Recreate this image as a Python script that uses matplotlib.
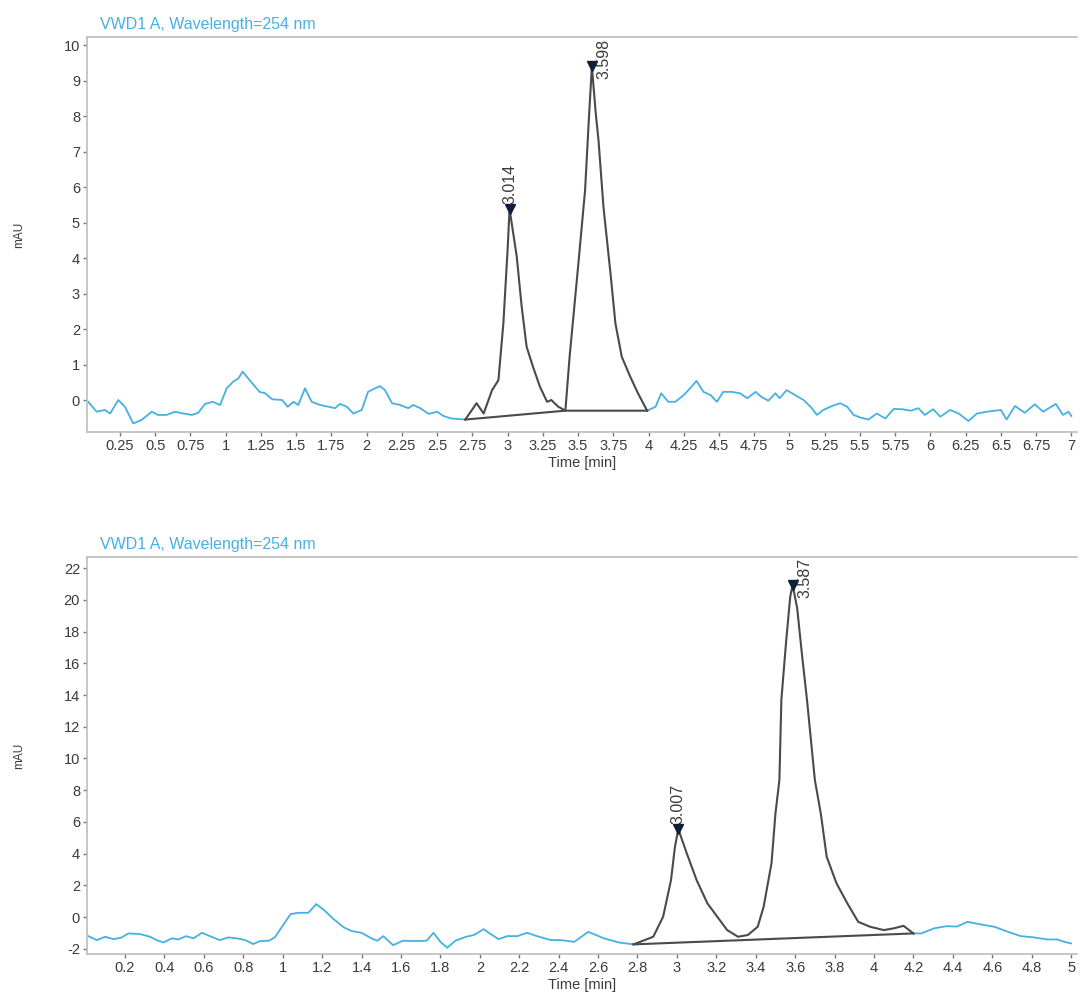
import matplotlib
matplotlib.use("Agg")
import matplotlib.pyplot as plt

plt.rcParams['font.family'] = ['Liberation Sans', 'DejaVu Sans']

# ---- top run (0-7 min) ----
top_base1_t = [0.025, 0.084, 0.143, 0.18, 0.238, 0.285, 0.344, 0.404, 0.475, 0.52, 0.58, 0.64, 0.70,
               0.76, 0.805, 0.853, 0.91, 0.96, 1.007, 1.054, 1.09, 1.12, 1.17, 1.24, 1.28, 1.33, 1.40,
               1.44, 1.48, 1.515, 1.563, 1.61, 1.67, 1.73, 1.775, 1.81, 1.86, 1.905, 1.965, 2.01, 2.06,
               2.095, 2.13, 2.18, 2.237, 2.296, 2.33, 2.38, 2.44, 2.50, 2.545, 2.60, 2.70]
top_base1_v = [-0.05, -0.33, -0.28, -0.38, 0.0, -0.19, -0.66, -0.56, -0.33, -0.42, -0.42, -0.33, -0.38,
               -0.42, -0.36, -0.11, -0.05, -0.14, 0.33, 0.52, 0.61, 0.80, 0.56, 0.23, 0.19, 0.02, 0.0,
               -0.19, -0.05, -0.14, 0.33, -0.05, -0.14, -0.19, -0.23, -0.11, -0.19, -0.38, -0.28, 0.23, 0.33,
               0.39, 0.28, -0.09, -0.14, -0.23, -0.14, -0.23, -0.39, -0.33, -0.45, -0.52, -0.55]

top_peak_t = [2.70, 2.78, 2.83, 2.89, 2.935, 2.97, 3.0, 3.014, 3.065, 3.10, 3.135, 3.18, 3.23, 3.28,
              3.31, 3.36, 3.41, 3.44, 3.50, 3.55, 3.575, 3.598, 3.625, 3.645, 3.68, 3.73, 3.765, 3.81,
              3.87, 3.92, 3.99]
top_peak_v = [-0.55, -0.09, -0.38, 0.28, 0.56, 2.16, 4.23, 5.38, 4.04, 2.63, 1.50, 0.94, 0.37, -0.05,
              0.0, -0.19, -0.30, 1.22, 3.75, 5.92, 7.8, 9.40, 8.1, 7.32, 5.45, 3.57, 2.16, 1.22,
              0.66, 0.23, -0.30]

top_base2_t = [3.99, 4.05, 4.09, 4.14, 4.19, 4.25, 4.295, 4.34, 4.39, 4.44, 4.485, 4.53, 4.59, 4.65,
               4.70, 4.76, 4.80, 4.85, 4.90, 4.93, 4.98, 5.04, 5.10, 5.15, 5.195, 5.24, 5.30, 5.36,
               5.41, 5.455, 5.50, 5.56, 5.62, 5.68, 5.74, 5.80, 5.86, 5.915, 5.96, 6.02, 6.07, 6.14,
               6.20, 6.27, 6.33, 6.40, 6.50, 6.54, 6.60, 6.67, 6.74, 6.80, 6.89, 6.94, 6.98, 7.0]
top_base2_v = [-0.30, -0.19, 0.19, -0.05, -0.05, 0.14, 0.33, 0.54, 0.23, 0.14, -0.05, 0.23, 0.23, 0.19,
               0.05, 0.23, 0.09, -0.02, 0.19, 0.05, 0.28, 0.14, 0.0, -0.19, -0.42, -0.28, -0.17, -0.09,
               -0.19, -0.42, -0.49, -0.55, -0.38, -0.52, -0.25, -0.26, -0.30, -0.23, -0.42, -0.26, -0.47, -0.28,
               -0.38, -0.59, -0.38, -0.33, -0.28, -0.55, -0.17, -0.36, -0.12, -0.33, -0.11, -0.42, -0.33, -0.45]

top_intline_t = [2.70, 3.41, 3.99]
top_intline_v = [-0.55, -0.30, -0.30]
top_apex_t = [3.014, 3.598]
top_apex_v = [5.38, 9.40]
top_apex_lbl = ["3.014", "3.598"]

# ---- bottom run (0-5 min) ----
bot_base1_t = [0.014, 0.056, 0.10, 0.14, 0.18, 0.217, 0.276, 0.327, 0.36, 0.395, 0.437, 0.47, 0.51,
               0.547, 0.59, 0.63, 0.68, 0.725, 0.767, 0.81, 0.85, 0.886, 0.93, 0.96, 0.996, 1.04, 1.08,
               1.13, 1.17, 1.21, 1.26, 1.31, 1.35, 1.40, 1.45, 1.48, 1.51, 1.56, 1.61, 1.67, 1.73,
               1.765, 1.80, 1.835, 1.876, 1.93, 1.97, 2.02, 2.05, 2.095, 2.14, 2.19, 2.24, 2.29, 2.36,
               2.41, 2.48, 2.55, 2.63, 2.705, 2.78]
bot_base1_v = [-1.20, -1.45, -1.24, -1.39, -1.30, -1.03, -1.07, -1.24, -1.45, -1.60, -1.34, -1.41, -1.20,
               -1.34, -0.99, -1.20, -1.45, -1.28, -1.34, -1.45, -1.70, -1.51, -1.49, -1.28, -0.61, 0.19, 0.27,
               0.27, 0.82, 0.44, -0.15, -0.65, -0.88, -0.99, -1.34, -1.49, -1.20, -1.77, -1.49, -1.51, -1.49,
               -0.99, -1.56, -1.93, -1.49, -1.24, -1.13, -0.76, -1.03, -1.39, -1.20, -1.20, -0.99, -1.20, -1.45,
               -1.45, -1.56, -0.93, -1.34, -1.60, -1.72]

bot_peak_t = [2.78, 2.88, 2.93, 2.97, 2.99, 3.007, 3.05, 3.10, 3.155, 3.205, 3.255, 3.31, 3.36, 3.41,
              3.44, 3.48, 3.50, 3.52, 3.53, 3.555, 3.575, 3.587, 3.61, 3.635, 3.66, 3.70, 3.73, 3.76,
              3.81, 3.865, 3.92, 3.98, 4.05, 4.10, 4.15, 4.20]
bot_peak_v = [-1.72, -1.24, 0.02, 2.33, 4.43, 5.55, 4.02, 2.33, 0.86, 0.02, -0.82, -1.24, -1.13, -0.61,
              0.65, 3.39, 6.54, 8.64, 13.7, 17.5, 20.2, 20.93, 19.5, 16.5, 13.7, 8.64, 6.54, 3.80,
              2.12, 0.86, -0.30, -0.61, -0.82, -0.71, -0.55, -1.03]

bot_base2_t = [4.20, 4.24, 4.305, 4.37, 4.42, 4.475, 4.54, 4.61, 4.68, 4.745, 4.81, 4.88, 4.93, 4.965, 5.0]
bot_base2_v = [-1.03, -1.03, -0.71, -0.57, -0.60, -0.30, -0.46, -0.61, -0.93, -1.20, -1.28, -1.41, -1.41,
               -1.56, -1.66]

bot_intline_t = [2.78, 4.20]
bot_intline_v = [-1.72, -1.03]
bot_apex_t = [3.007, 3.587]
bot_apex_v = [5.55, 20.93]
bot_apex_lbl = ["3.007", "3.587"]

top_xticks = [0.25 * i for i in range(1, 29)]
top_yticks = list(range(0, 11))
bot_xticks = [0.2 * i for i in range(1, 26)]
bot_yticks = list(range(-2, 23, 2))

BLUE = '#45b1e3'
PEAK = '#4a4a4a'
SPINE = '#bdbdbd'
TXT = '#3a3a3a'


def fmt(v):
    s = ('%.2f' % v).rstrip('0').rstrip('.')
    return s


def draw(ax, b1t, b1v, pt, pv, b2t, b2v, it, iv, at, av, lbl, offs, xt, yt, xlim, ylim):
    ax.plot(b1t, b1v, color=BLUE, lw=1.3)
    ax.plot(b2t, b2v, color=BLUE, lw=1.3)
    ax.plot(pt, pv, color=PEAK, lw=1.5)
    ax.plot(it, iv, color=PEAK, lw=1.5)
    ax.plot(at, av, linestyle='none', marker='v', color='#0d1f3a', ms=7)
    for x, y, s, o in zip(at, av, lbl, offs):
        ax.annotate(s, (x, y), xytext=o, textcoords='offset points', rotation=90,
                    ha='center', va='bottom', fontsize=11.5, color=TXT, annotation_clip=False)
    ax.set_xlim(*xlim)
    ax.set_ylim(*ylim)
    ax.set_xticks(xt)
    ax.set_xticklabels([fmt(v) for v in xt])
    ax.set_yticks(yt)
    ax.set_yticklabels([str(v) for v in yt])
    ax.spines['right'].set_visible(False)
    for s in ['left', 'bottom', 'top']:
        ax.spines[s].set_color(SPINE)
        ax.spines[s].set_linewidth(1.2)
    ax.tick_params(length=3, width=1, color='#777777', labelsize=10.5, labelcolor=TXT, pad=2)
    ax.set_xlabel('Time [min]', fontsize=10.5, color=TXT, labelpad=2)
    ax.set_ylabel('mAU', fontsize=8.5, color=TXT, labelpad=28)
    ax.text(0.013, 1.012, 'VWD1 A, Wavelength=254 nm', transform=ax.transAxes,
            fontsize=11.5, color=BLUE, ha='left', va='bottom')


fig = plt.figure(figsize=(10.81, 9.99), dpi=100)
ax1 = fig.add_axes([0.0805, 0.5676, 0.9158, 0.3954])
ax2 = fig.add_axes([0.0805, 0.045, 0.9158, 0.3974])

draw(ax1, top_base1_t, top_base1_v, top_peak_t, top_peak_v, top_base2_t, top_base2_v,
     top_intline_t, top_intline_v, top_apex_t, top_apex_v, top_apex_lbl,
     [(0, 4), (9, -9)], top_xticks, top_yticks, (0.016, 7.04), (-0.9, 10.23))
draw(ax2, bot_base1_t, bot_base1_v, bot_peak_t, bot_peak_v, bot_base2_t, bot_base2_v,
     bot_intline_t, bot_intline_v, bot_apex_t, bot_apex_v, bot_apex_lbl,
     [(0, 4), (9, -9)], bot_xticks, bot_yticks, (0.007, 5.03), (-2.33, 22.7))

fig.savefig('out.png', dpi=100)
